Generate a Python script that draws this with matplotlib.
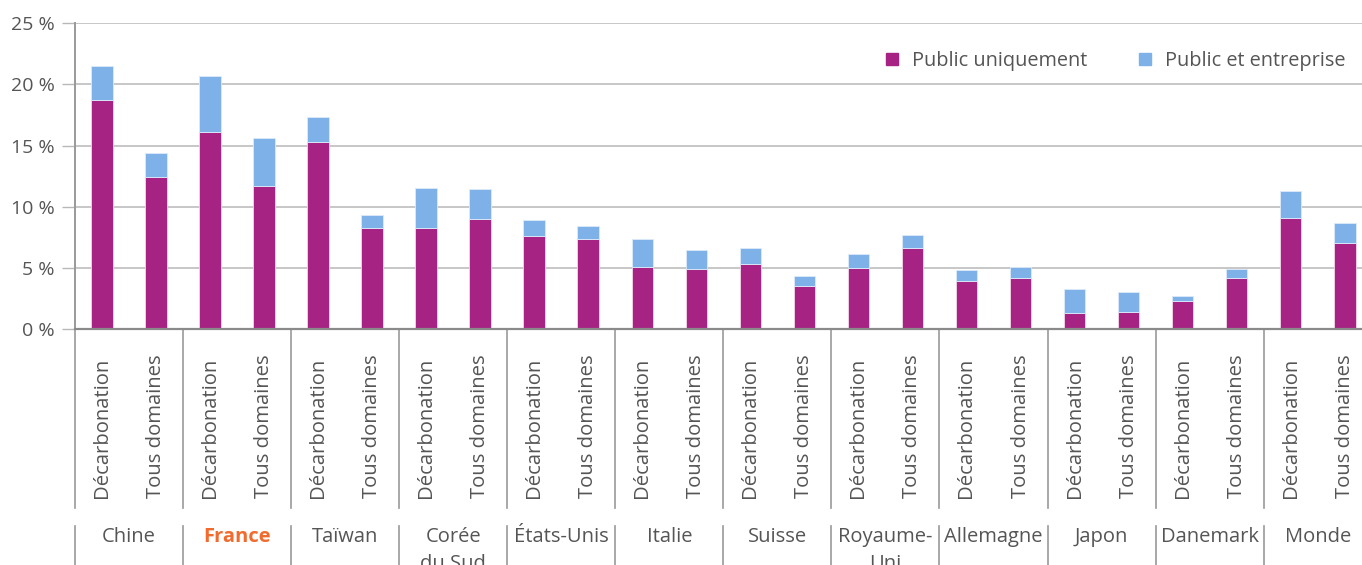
import matplotlib
matplotlib.use("Agg")
import matplotlib.pyplot as plt
from matplotlib.patches import Patch
import numpy as np

countries = ["Chine", "France", "Taïwan", "Corée\ndu Sud", "États-Unis", "Italie",
             "Suisse", "Royaume-\nUni", "Allemagne", "Japon", "Danemark", "Monde"]
sub_labels = ["Décarbonation", "Tous domaines"]
# Public uniquement (%), per country: [Décarbonation, Tous domaines]
public_only = [18.7, 12.4, 16.1, 11.7, 15.3, 8.3, 8.3, 9.0, 7.6, 7.4, 5.1, 4.9,
               5.3, 3.5, 5.0, 6.6, 3.9, 4.2, 1.3, 1.4, 2.3, 4.2, 9.1, 7.0]
# Total (public uniquement + public et entreprise) (%)
total = [21.5, 14.4, 20.7, 15.6, 17.3, 9.3, 11.5, 11.45, 8.9, 8.4, 7.35, 6.45,
         6.6, 4.35, 6.1, 7.7, 4.85, 5.1, 3.25, 3.05, 2.7, 4.9, 11.3, 8.7]
public_business = [t - p for t, p in zip(total, public_only)]
yticks = [0, 5, 10, 15, 20, 25]
ytick_labels = ["0 %", "5 %", "10 %", "15 %", "20 %", "25 %"]

MAGENTA = "#A62383"
BLUE = "#7DB1E8"
TXT = "#555555"
GRID = "#B8B8B8"
FONT = ["Open Sans", "DejaVu Sans"]
plt.rcParams["font.family"] = FONT

W, H = 1362, 565
fig = plt.figure(figsize=(W / 100, H / 100), dpi=100)
ax_l, ax_b, ax_t = 75, 329, 23.3
ax = fig.add_axes([ax_l / W, (H - ax_b) / H, 1 - ax_l / W, (ax_b - ax_t) / H])

n = len(public_only)
x = np.arange(n)
bw = 0.40
ax.bar(x, public_only, width=bw, color=MAGENTA, edgecolor="#F0D8EA", linewidth=0.6,
       label="Public uniquement", zorder=3)
ax.bar(x, public_business, bottom=public_only, width=bw, color=BLUE, edgecolor="#DDEBFA",
       linewidth=0.6, label="Public et entreprise", zorder=3)

ax.set_xlim(-0.5, 23.32)
ax.set_ylim(0, 25)
ax.set_yticks(yticks)
ax.set_yticklabels(ytick_labels)
ax.tick_params(axis="y", length=9.4, width=1.0, color=GRID, pad=5, labelsize=14, labelcolor=TXT)
ax.tick_params(axis="x", bottom=False, labelbottom=False)
ax.yaxis.grid(True, color=GRID, linewidth=1.1, zorder=0)
ax.set_axisbelow(True)
for s in ["top", "right"]:
    ax.spines[s].set_visible(False)
ax.spines["left"].set_color("#999999")
ax.spines["left"].set_linewidth(1.4)
ax.spines["bottom"].set_color("#8A8A8A")
ax.spines["bottom"].set_linewidth(1.6)
ax.spines["bottom"].set_zorder(4)

h = ax_b - ax_t
def yf(py):
    return (ax_b - py) / h

tr = ax.get_xaxis_transform()
# separators
for k in range(len(countries) + 1):
    xs = -0.5 + 2 * k
    ax.plot([xs, xs], [0, yf(508)], transform=tr, color="#999999", lw=1.2, clip_on=False)
    ax.plot([xs, xs], [yf(526), yf(566)], transform=tr, color="#999999", lw=1.2, clip_on=False)

# sub labels
for i in range(n):
    ax.text(x[i], yf(498), sub_labels[i % 2], rotation=90, ha="center", va="bottom",
            transform=tr, fontsize=14.6, color=TXT, clip_on=False)

# country labels (each line placed on its own baseline)
for k, c in enumerate(countries):
    is_fr = c == "France"
    for j, line in enumerate(c.split("\n")):
        ax.text(2 * k + 0.5, yf(542 + 27 * j), line, ha="center", va="baseline", transform=tr,
                fontsize=14.5, color="#F26B2E" if is_fr else TXT,
                fontweight="bold" if is_fr else "normal", clip_on=False)

handles = [Patch(color=MAGENTA, label="Public uniquement"),
           Patch(color=BLUE, label="Public et entreprise")]
leg = fig.legend(handles=handles, loc="center left", bbox_to_anchor=(886 / W, 1 - 61 / H),
                 ncol=2, frameon=False, fontsize=14.3, handlelength=0.6, handleheight=0.6,
                 handletextpad=0.7, columnspacing=2.6, borderaxespad=0, borderpad=0)
for t in leg.get_texts():
    t.set_color(TXT)

fig.savefig("out.png", dpi=100)
